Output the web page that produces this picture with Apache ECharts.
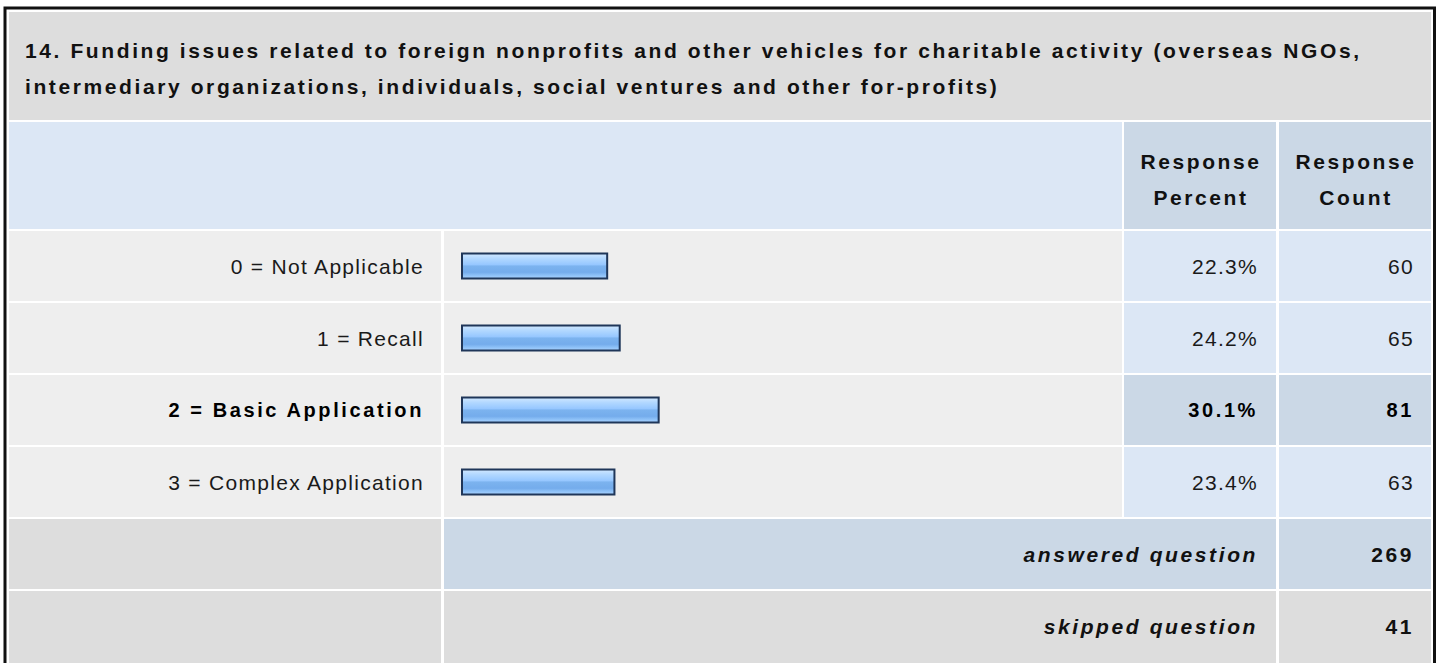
<!DOCTYPE html>
<html>
<head>
<meta charset="utf-8">
<script src="https://cdn.jsdelivr.net/npm/echarts@6/dist/echarts.min.js"></script>
<style>
  html, body { margin: 0; padding: 0; background: #ffffff; }
  #chart { width: 1440px; height: 663px; }
  #chart text { letter-spacing: 1.3px; }
  #chart text[style*="bold"], #chart text[font-weight="bold"] { letter-spacing: 2.6px; }
</style>
</head>
<body>
<div id="chart"></div>
<script>
// ---- data ----
var titleText = '14. Funding issues related to foreign nonprofits and other vehicles for charitable activity (overseas NGOs,\nintermediary organizations, individuals, social ventures and other for-profits)';
var categories = ['0 = Not Applicable', '1 = Recall', '2 = Basic Application', '3 = Complex Application'];
var percents = [22.3, 24.2, 30.1, 23.4];
var counts = [60, 65, 81, 63];
var headerLabels = ['Response\nPercent', 'Response\nCount'];
var footerLabels = ['answered question', 'skipped question'];
var footerValues = [269, 41];
var highlightIndex = 2;

// ---- layout ----
var FONT = '"Liberation Sans", Arial, Helvetica, sans-serif';
var FS = 21;
var C_TITLE = '#dddddd', C_LABEL = '#eeeeee', C_LIGHT = '#dce7f5', C_MID = '#cbd8e6', C_GRAY = '#dddddd';
var rowTop = 230, rowPitch = 72;

function rect(x, y, w, h, fill) {
  return { type: 'rect', silent: true, z: -1, shape: { x: x, y: y, width: w, height: h }, style: { fill: fill } };
}
function txt(x, y, text, opt) {
  var st = Object.assign({ text: text, fill: '#000', fontFamily: FONT, fontSize: FS,
    align: 'left', verticalAlign: 'middle' }, opt || {});
  return { type: 'text', silent: true, z: 10, x: x, y: y, style: st };
}

var graphics = [];
// outer border
graphics.push({ type: 'rect', silent: true, z: -2, shape: { x: 5, y: 8, width: 1429.5, height: 700 },
  style: { fill: '#ffffff', stroke: '#111111', lineWidth: 3 } });
// title
graphics.push(rect(9, 12, 1422, 108, C_TITLE));
// header row
graphics.push(rect(9, 122, 1113, 107, C_LIGHT));
graphics.push(rect(1124, 122, 152, 107, C_MID));
graphics.push(rect(1279, 122, 152, 107, C_MID));
// data rows
for (var i = 0; i < categories.length; i++) {
  var y = rowTop + 1 + i * rowPitch;
  var c = (i === highlightIndex) ? C_MID : C_LIGHT;
  graphics.push(rect(9, y, 432, 70, C_LABEL));
  graphics.push(rect(444, y, 678, 70, C_LABEL));
  graphics.push(rect(1124, y, 152, 70, c));
  graphics.push(rect(1279, y, 152, 70, c));
}
// footer rows
var fy0 = rowTop + 1 + categories.length * rowPitch;
graphics.push(rect(9, fy0, 432, 70, C_GRAY));
graphics.push(rect(444, fy0, 832, 70, C_MID));
graphics.push(rect(1279, fy0, 152, 70, C_MID));
graphics.push(rect(9, fy0 + rowPitch, 432, 80, C_GRAY));
graphics.push(rect(444, fy0 + rowPitch, 832, 80, C_GRAY));
graphics.push(rect(1279, fy0 + rowPitch, 152, 80, C_GRAY));

// texts
graphics.push(txt(25, 68, titleText, { fontWeight: 'bold', lineHeight: 36, fill: '#111' }));
graphics.push(txt(1201, 179, headerLabels[0], { fontWeight: 'bold', lineHeight: 36, align: 'center', fill: '#111' }));
graphics.push(txt(1356, 179, headerLabels[1], { fontWeight: 'bold', lineHeight: 36, align: 'center', fill: '#111' }));
for (var k = 0; k < footerLabels.length; k++) {
  var cy = fy0 + 35 + k * rowPitch;
  graphics.push(txt(1258, cy, footerLabels[k], { fontWeight: 'bold', fontStyle: 'italic', align: 'right', fill: '#111' }));
  graphics.push(txt(1414, cy, String(footerValues[k]), { fontWeight: 'bold', align: 'right', fill: '#111' }));
}

function richLabel(text, idx) {
  return (idx === highlightIndex ? '{b|' : '{n|') + text + '}';
}
var rich = {
  n: { fontFamily: FONT, fontSize: FS, color: '#1a1a1a' },
  b: { fontFamily: FONT, fontSize: 20, fontWeight: 'bold', color: '#000' }
};
var GRID_LEFT = 461, GRID_WIDTH = 660, GRID_RIGHT = GRID_LEFT + GRID_WIDTH;

var chart = echarts.init(document.getElementById('chart'), null, { renderer: 'svg' });
chart.setOption({
  animation: false,
  backgroundColor: '#ffffff',
  graphic: graphics,
  grid: { left: GRID_LEFT, width: GRID_WIDTH, top: rowTop, height: rowPitch * categories.length, containLabel: false },
  xAxis: { type: 'value', min: 0, max: 100, show: false },
  yAxis: [
    { type: 'category', data: categories, inverse: true, position: 'left',
      axisLine: { show: false }, axisTick: { show: false }, splitLine: { show: false },
      axisLabel: { margin: GRID_LEFT - 424, formatter: function (v, i) { return richLabel(v, i); }, rich: rich } },
    { type: 'category', data: percents, inverse: true, position: 'right',
      axisLine: { show: false }, axisTick: { show: false }, splitLine: { show: false },
      axisLabel: { margin: 1258 - GRID_RIGHT, align: 'right',
        formatter: function (v, i) { return richLabel(Number(v).toFixed(1) + '%', i); }, rich: rich } },
    { type: 'category', data: counts, inverse: true, position: 'right',
      axisLine: { show: false }, axisTick: { show: false }, splitLine: { show: false },
      axisLabel: { margin: 1414 - GRID_RIGHT, align: 'right',
        formatter: function (v, i) { return richLabel(String(v), i); }, rich: rich } }
  ],
  series: [{
    type: 'bar', yAxisIndex: 0, data: percents, barWidth: 27,
    itemStyle: {
      borderColor: '#1f3659', borderWidth: 2,
      color: new echarts.graphic.LinearGradient(0, 0, 0, 1, [
        { offset: 0, color: '#d2e8ff' },
        { offset: 0.2, color: '#b2d8ff' },
        { offset: 0.45, color: '#96c7ff' },
        { offset: 0.5, color: '#7cb3ef' },
        { offset: 0.75, color: '#74acec' },
        { offset: 0.88, color: '#8fc2f8' },
        { offset: 1, color: '#aad3ff' }
      ])
    }
  }]
});
</script>
</body>
</html>
